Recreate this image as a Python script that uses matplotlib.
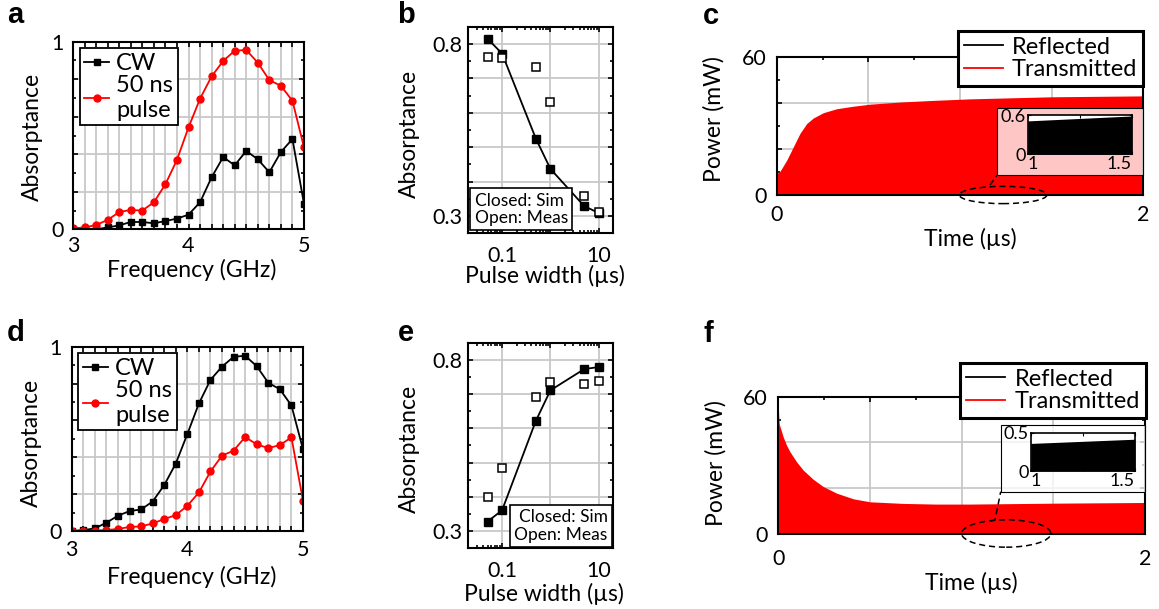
import numpy as np
import matplotlib
matplotlib.use('Agg')
import matplotlib.pyplot as plt
from matplotlib.lines import Line2D
from matplotlib.patches import Ellipse, Rectangle
from matplotlib.ticker import NullFormatter

plt.rcParams['font.family'] = ['Lato', 'DejaVu Sans']

# --- datos ---
freq = [3.0, 3.1, 3.2, 3.3, 3.4, 3.5, 3.6, 3.7, 3.8, 3.9, 4.0,
        4.1, 4.2, 4.3, 4.4, 4.5, 4.6, 4.7, 4.8, 4.9, 5.0]
a_cw = [0.0, 0.0, 0.0, 0.01, 0.021, 0.039, 0.039, 0.032, 0.044, 0.057, 0.078,
        0.144, 0.277, 0.385, 0.341, 0.418, 0.373, 0.304, 0.412, 0.481, 0.135]
a_pulso = [0.005, 0.01, 0.023, 0.05, 0.092, 0.103, 0.10, 0.144, 0.24, 0.37, 0.543,
           0.696, 0.815, 0.897, 0.952, 0.956, 0.888, 0.795, 0.765, 0.685, 0.437]
d_cw = [0.0, 0.005, 0.014, 0.045, 0.083, 0.108, 0.117, 0.16, 0.249, 0.366, 0.526,
        0.692, 0.82, 0.892, 0.945, 0.951, 0.894, 0.804, 0.769, 0.681, 0.443]
d_pulso = [0.0, 0.0, 0.002, 0.005, 0.011, 0.022, 0.025, 0.041, 0.065, 0.086, 0.137,
           0.209, 0.323, 0.409, 0.436, 0.51, 0.47, 0.45, 0.466, 0.508, 0.164]

ancho_pulso = [0.05, 0.1, 0.5, 1, 5, 10]
b_sim = [0.815, 0.772, 0.525, 0.437, 0.329, 0.309]
b_meas = [0.762, 0.758, 0.732, 0.631, 0.359, 0.312]
e_sim = [0.328, 0.361, 0.622, 0.711, 0.773, 0.779]
e_meas = [0.401, 0.483, 0.691, 0.734, 0.730, 0.739]

# envolventes de potencia (mW) vs tiempo (us)
c_t = [0, 0.003, 0.015, 0.027, 0.055, 0.091, 0.127, 0.164, 0.2, 0.255, 0.327,
       0.418, 0.51, 0.69, 0.873, 1.055, 1.5, 2.0]
c_trans = [38.4, 9.5, 10.0, 11.5, 15.2, 21.0, 26.8, 31.1, 33.5, 35.8, 37.5,
           38.6, 39.5, 40.5, 41.2, 41.8, 42.7, 43.1]
c_ref_t = [1.0, 1.5]
c_ref = [0.51, 0.585]

f_t = [0, 0.005, 0.027, 0.045, 0.064, 0.1, 0.136, 0.19, 0.245, 0.318, 0.41,
       0.5, 0.68, 0.86, 1.04, 1.5, 2.0]
f_trans = [55, 48, 42.3, 38.7, 35.8, 31.4, 27.8, 23.8, 20.6, 17.7, 15.2,
           13.9, 13.2, 12.9, 12.9, 13.3, 13.6]
f_ref_t = [1.0, 1.5]
f_ref = [0.36, 0.415]

W, H = 1159, 609
fig = plt.figure(figsize=(W / 100, H / 100), dpi=100)


def caja(l, t, r, b):
    return [l / W, 1 - b / H, (r - l) / W, (b - t) / H]


def estilo(ax, xpad, ypad):
    for s in ax.spines.values():
        s.set_linewidth(1.5)
    ax.tick_params(which='both', direction='in', top=True, right=True,
                   width=1.2, labelsize=15.5)
    ax.tick_params(which='major', length=3.5)
    ax.tick_params(which='minor', length=2.5)
    ax.tick_params(axis='x', which='both', pad=xpad)
    ax.tick_params(axis='y', which='both', pad=ypad)
    ax.grid(True, which='major', color='#c8c8c8', lw=1.3)
    ax.set_axisbelow(True)


def panel_absorcion(pos, cw, pulso, ylab, xlab, xpad):
    ax = fig.add_axes(caja(*pos))
    ax.plot(freq, cw, '-s', color='black', lw=1.3, ms=4.5, label='CW')
    ax.plot(freq, pulso, '-o', color='red', lw=1.3, ms=5, label='50 ns\npulse')
    ax.set_xlim(3, 5)
    ax.set_ylim(0, 1)
    etiquetas_x = ['3'] + [''] * 9 + ['4'] + [''] * 9 + ['5']
    ax.set_xticks(np.linspace(3, 5, 21), labels=etiquetas_x)
    ax.set_yticks(np.linspace(0, 1, 6), labels=['0', '', '', '', '', '1'])
    ax.set_yticks(np.linspace(0.1, 0.9, 5), minor=True)
    estilo(ax, xpad, 7)
    ax.set_ylabel('Absorptance', fontsize=16.5)
    ax.set_xlabel('Frequency (GHz)', fontsize=16.5)
    ax.yaxis.set_label_coords(*ylab)
    ax.xaxis.set_label_coords(*xlab)
    leg = ax.legend(loc='upper left', fontsize=17, frameon=True, fancybox=False,
                    edgecolor='black', framealpha=1, borderpad=0.2,
                    labelspacing=0.05, handlelength=1.05, handletextpad=0.3,
                    borderaxespad=0.28)
    leg.get_frame().set_linewidth(1.3)
    return ax


def panel_pulso(pos, sim, meas, ylab, xlab, texto_pos, texto_ha):
    ax = fig.add_axes(caja(*pos))
    ax.plot(ancho_pulso, sim, '-s', color='black', lw=1.3, ms=5.5, zorder=3)
    ax.plot(ancho_pulso, meas, 's', mfc='white', mec='black', mew=1.1, ms=5.5,
            ls='none', zorder=4)
    ax.set_xscale('log')
    ax.set_xlim(0.02, 20)
    ax.set_ylim(0.25, 0.85)
    ax.set_xticks([0.1, 1, 10], labels=['0.1', '', '10'])
    ax.xaxis.set_minor_formatter(NullFormatter())
    ax.set_yticks([0.3, 0.4, 0.5, 0.6, 0.7, 0.8],
                  labels=['0.3', '', '', '', '', '0.8'])
    ax.set_yticks([0.35, 0.45, 0.55, 0.65, 0.75], minor=True)
    estilo(ax, 9, 4.5)
    ax.set_ylabel('Absorptance', fontsize=16.5)
    ax.set_xlabel('Pulse width (µs)', fontsize=16.5)
    ax.yaxis.set_label_coords(*ylab)
    ax.xaxis.set_label_coords(*xlab)
    ax.text(texto_pos[0], texto_pos[1], 'Closed: Sim\nOpen: Meas',
            transform=ax.transAxes, ha=texto_ha, va='bottom', fontsize=12.5,
            linespacing=1.1, zorder=6,
            bbox=dict(boxstyle='square,pad=0.25', fc='white', ec='black', lw=1.2))
    return ax


def panel_potencia(pos, t, trans, rt, ref, ylab, xlab, xpad,
                   elipse, linea, ley, rect, ins_pos, ins_top):
    ax = fig.add_axes(caja(*pos))
    ax.fill_between(t, 0, trans, color='red', lw=0)
    ax.fill_between(rt, 0, ref, color='black', lw=0)
    ax.set_xlim(0, 2)
    ax.set_ylim(0, 60)
    ax.set_xticks([0, 0.5, 1, 1.5, 2], labels=['0', '', '', '', '2'])
    ax.set_xticks([0.25, 0.75, 1.25, 1.75], minor=True)
    ax.set_yticks([0, 20, 40, 60], labels=['0', '', '', '60'])
    ax.set_yticks([10, 30, 50], minor=True)
    estilo(ax, xpad, 7.5)
    ax.set_ylabel('Power (mW)', fontsize=16.5)
    ax.set_xlabel('Time (µs)', fontsize=16.5)
    ax.yaxis.set_label_coords(*ylab)
    ax.xaxis.set_label_coords(*xlab)

    ax.add_patch(Ellipse(elipse[:2], elipse[2], elipse[3], fill=False, ls=(0, (4, 2.5)),
                         lw=1.1, ec='black', clip_on=False, zorder=6))
    fig.add_artist(Line2D([p[0] / W for p in linea], [1 - p[1] / H for p in linea],
                          ls=(0, (4, 2.5)), lw=1.1, color='black'))

    manijas = [Line2D([], [], color='black', lw=1.3), Line2D([], [], color='red', lw=1.3)]
    leg = ax.legend(manijas, ['Reflected', 'Transmitted'], loc='upper right',
                    bbox_to_anchor=(ley[0] / W, 1 - ley[1] / H),
                    bbox_transform=fig.transFigure, borderaxespad=0,
                    fontsize=17, frameon=True, fancybox=False, edgecolor='black',
                    framealpha=1, borderpad=0.25, labelspacing=0.05,
                    handlelength=1.65, handletextpad=0.4)
    leg.get_frame().set_linewidth(2.2)

    l, tp, r, b = rect
    fig.add_artist(Rectangle((l / W, 1 - b / H), (r - l) / W, (b - tp) / H,
                             transform=fig.transFigure, fc=(1, 1, 1, 0.78),
                             ec='black', lw=0.8, zorder=2))
    ins = fig.add_axes(caja(*ins_pos))
    ins.set_zorder(3)
    ins.fill_between(rt, 0, ref, color='black', lw=0)
    ins.set_xlim(1, 1.5)
    ins.set_ylim(0, ins_top)
    ins.set_xticks([1, 1.25, 1.5], labels=['1', '', '1.5'])
    ins.set_yticks([0, ins_top], labels=['0', f'{ins_top:g}'])
    ins.tick_params(direction='in', top=True, right=True, labelsize=13,
                    pad=1.5, length=2.5, width=0.8)
    etqs = ins.get_xticklabels()
    etqs[0].set_ha('left')
    etqs[-1].set_ha('right')
    for s in ins.spines.values():
        s.set_linewidth(1.2)
    return ax


panel_absorcion((73, 41.7, 304, 229.3), a_cw, a_pulso, (-0.13, 0.494), (0.515, -0.158), 5)
panel_absorcion((71.7, 346.7, 303, 531), d_cw, d_pulso, (-0.13, 0.48), (0.52, -0.19), 6.5)

panel_pulso((468.3, 26.7, 613.3, 233.3), b_sim, b_meas, (-0.333, 0.48), (0.529, -0.153),
            (0.044, 0.035), 'left')
panel_pulso((468.3, 342.7, 613.3, 548.3), e_sim, e_meas, (-0.333, 0.483), (0.522, -0.17),
            (0.961, 0.027), 'right')

panel_potencia((776.7, 57, 1143.3, 195), c_t, c_trans, c_ref_t, c_ref,
               (-0.141, 0.549), (0.527, -0.241), 7,
               (1.235, 0, 0.477, 7.5), [(990, 185), (997.3, 175)],
               (1143.3, 30.7), (997.3, 108.3, 1143.3, 175),
               (1027.7, 115, 1131.7, 154.3), 0.6)
panel_potencia((778.3, 396.7, 1145, 533.5), f_t, f_trans, f_ref_t, f_ref,
               (-0.141, 0.513), (0.527, -0.279), 11,
               (1.243, 0, 0.486, 12), [(991, 521), (995, 520), (1000.7, 491.7)],
               (1145.7, 362.7), (1000.7, 425, 1145, 491.7),
               (1030.7, 432.7, 1135, 471), 0.5)

# letras de los paneles
for letra, x, y in [('a', 7, 1), ('b', 397, 1), ('c', 703, 2),
                    ('d', 7, 319), ('e', 398, 319), ('f', 703, 320)]:
    fig.text(x / W, 1 - y / H, letra, fontsize=21, fontweight='bold',
             family='Liberation Sans', ha='left', va='top')

fig.savefig('out.png', dpi=100)
